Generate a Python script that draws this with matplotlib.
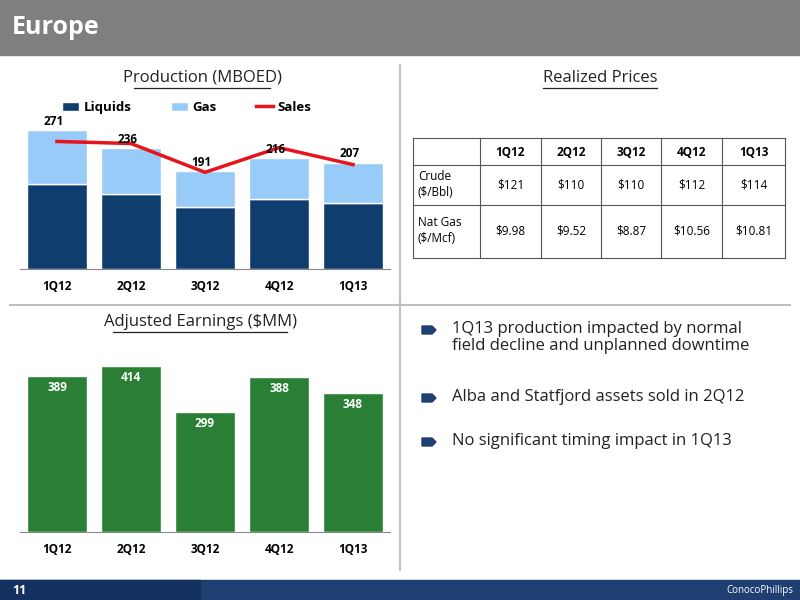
import matplotlib.pyplot as plt
from matplotlib.patches import Rectangle, Polygon

quarters = ['1Q12', '2Q12', '3Q12', '4Q12', '1Q13']
liquids = [165, 146, 121, 137, 128]
gas = [106, 90, 70, 79, 79]
production_total = [271, 236, 191, 216, 207]
sales = [248, 244, 188, 236, 203]
earnings = [389, 414, 299, 388, 348]

price_cols = ['1Q12', '2Q12', '3Q12', '4Q12', '1Q13']
crude = ['$121', '$110', '$110', '$112', '$114']
nat_gas = ['$9.98', '$9.52', '$8.87', '$10.56', '$10.81']

bullets = [
    '1Q13 production impacted by normal\nfield decline and unplanned downtime',
    'Alba and Statfjord assets sold in 2Q12',
    'No significant timing impact in 1Q13',
]

plt.rcParams['font.family'] = ['Open Sans', 'DejaVu Sans']

W, H = 800, 600
fig = plt.figure(figsize=(8, 6), dpi=100)
bg = fig.add_axes([0, 0, 1, 1])
bg.set_xlim(0, W)
bg.set_ylim(H, 0)
bg.axis('off')


def fx(x):
    return x / W


def fy(y):
    return 1 - y / H


# header and footer
bg.add_patch(Rectangle((0, 0), W, 55, color='#7f7f7f'))
bg.text(12, 27, 'Europe', color='white', fontsize=18, fontweight='bold', va='center')
bg.add_patch(Rectangle((0, 580), W, 20, color='#1f3f73'))
bg.add_patch(Polygon([(0, 580), (200, 580), (200, 600), (0, 600)], color='#143060'))
bg.text(12, 590, '11', color='white', fontsize=9, fontweight='bold', va='center')
bg.text(760, 590, 'ConocoPhillips', color='white', fontsize=7, va='center', ha='center')

# dividers
bg.plot([400, 400], [65, 570], color='#bfbfbf', lw=1.5)
bg.plot([10, 790], [305, 305], color='#bfbfbf', lw=1.5)

for x, y, t in [(202, 78, 'Production (MBOED)'), (600, 78, 'Realized Prices'),
                (200, 322, 'Adjusted Earnings ($MM)')]:
    bg.text(x, y, t, fontsize=12, ha='center', va='center', color='#222222')
    tw = len(t) * 7.6 / 2
    bg.plot([x - tw, x + tw], [y + 10, y + 10], color='#222222', lw=0.9)

# production chart
ax = fig.add_axes([fx(20), fy(269), fx(370), fy(125) - fy(269)])
ax.patch.set_alpha(0)
x = range(len(quarters))
b1 = ax.bar(x, liquids, width=0.82, color='#0e3d6e', edgecolor='white', lw=1, label='Liquids')
b2 = ax.bar(x, gas, width=0.82, bottom=liquids, color='#99cbf8', edgecolor='white', lw=1, label='Gas')
ln, = ax.plot(x, sales, color='#e8141b', lw=2.5, label='Sales')
for i, v in enumerate(production_total):
    ax.text(i - 0.05, v + 4, str(v), ha='center', va='bottom', fontsize=8.5, fontweight='bold')
ax.set_xlim(-0.5, 4.5)
ax.set_ylim(0, 280)
ax.set_yticks([])
ax.set_xticks(x)
ax.set_xticklabels(quarters, fontsize=8.5, fontweight='bold')
for s in ['top', 'right', 'left']:
    ax.spines[s].set_visible(False)
ax.spines['bottom'].set_color('#888888')
ax.tick_params(axis='x', length=0, pad=8)
ax.legend([b1, b2, ln], ['Liquids', 'Gas', 'Sales'], loc='upper center',
          bbox_to_anchor=(0.45, 1.25), ncol=3, frameon=False,
          prop={'weight': 'bold', 'size': 9.5}, handlelength=1.3, columnspacing=3,
          handletextpad=0.3)

# earnings chart
ax2 = fig.add_axes([fx(20), fy(532), fx(370), fy(360) - fy(532)])
ax2.patch.set_alpha(0)
ax2.bar(x, earnings, width=0.82, color='#2a7f35', edgecolor='white', lw=1)
for i, v in enumerate(earnings):
    ax2.text(i, v - 12, str(v), ha='center', va='top', fontsize=8.5, fontweight='bold', color='white')
ax2.set_xlim(-0.5, 4.5)
ax2.set_ylim(0, 430)
ax2.set_yticks([])
ax2.set_xticks(x)
ax2.set_xticklabels(quarters, fontsize=8.5, fontweight='bold')
for s in ['top', 'right', 'left']:
    ax2.spines[s].set_visible(False)
ax2.spines['bottom'].set_color('#888888')
ax2.tick_params(axis='x', length=0, pad=8)

# price table
col_x = [413, 480, 541, 601, 661, 722, 785]
row_y = [138, 165, 205, 258]
for y in row_y:
    bg.plot([413, 785], [y, y], color='#555555', lw=0.8)
for cx in col_x:
    bg.plot([cx, cx], [138, 258], color='#555555', lw=0.8)
for j, c in enumerate(price_cols):
    cx = (col_x[j + 1] + col_x[j + 2]) / 2
    bg.text(cx, 152, c, ha='center', va='center', fontsize=8.5, fontweight='bold')
    bg.text(cx, 185, crude[j], ha='center', va='center', fontsize=8.5)
    bg.text(cx, 231, nat_gas[j], ha='center', va='center', fontsize=8.5)
bg.text(418, 185, 'Crude\n($/Bbl)', ha='left', va='center', fontsize=8.5, linespacing=1.3)
bg.text(418, 231, 'Nat Gas\n($/Mcf)', ha='left', va='center', fontsize=8.5, linespacing=1.3)

# bullets
for y, t in zip([330, 398, 442], bullets):
    bg.add_patch(Polygon([(422, y - 4), (432, y - 4), (436, y), (432, y + 4), (422, y + 4)],
                         color='#1f3f73'))
    bg.text(452, y - 9, t, ha='left', va='top', fontsize=12, color='#222222', linespacing=1.1)

fig.savefig('out.png', dpi=100)
